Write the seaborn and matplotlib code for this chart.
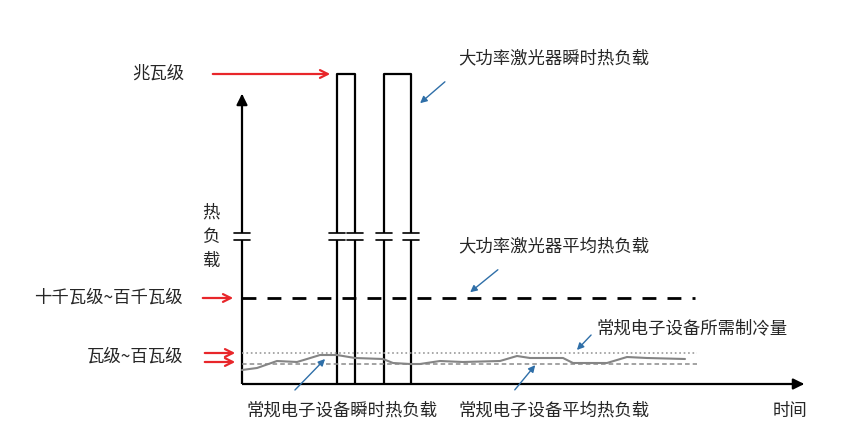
import numpy as np
import matplotlib.pyplot as plt
import seaborn as sns

sns.set_theme(style="white")
plt.rcParams['font.family'] = ['Noto Sans CJK SC', 'DejaVu Sans']

# schematic units: time to the right of the axis origin, load above it
t_curve = [0, 15, 35, 55, 65, 78, 95, 113, 141, 151, 168, 178, 198, 221, 258, 275, 288, 321, 331, 365, 385, 405, 443]
load_curve = [14, 16, 23, 22, 25, 29, 29, 26, 25, 21, 20, 20, 23, 22, 23, 28, 26, 26, 21, 21, 27, 26, 25]

pulses = [(95, 113), (142, 169)]   # laser on / off times
pulse_top = 310
break_lo, break_hi = 144, 151      # axis break band

laser_avg = 86
cool_need = 31
elec_avg = 20.5
level_end = 455
t_max = 565
load_max = 293

level_labels = ['兆瓦级', '十千瓦级~百千瓦级', '瓦级~百瓦级']
note_labels = ['大功率激光器瞬时热负载', '大功率激光器平均热负载', '常规电子设备所需制冷量',
               '常规电子设备瞬时热负载', '常规电子设备平均热负载']
note_pos = [(216, 326), (216, 138), (355, 56), (5, -27), (217, -27)]
note_tail = [(205, 304), (258, 116), (351, 51), (51, -8), (271, -8)]
note_head = [(176, 279), (226, 90), (333, 32), (85, 27), (295, 21)]

fig = plt.figure(figsize=(8.52, 4.41), dpi=100)
ax = fig.add_axes([0, 0, 1, 1])
ax.set_xlim(-242, 610)
ax.set_ylim(-57, 384)
ax.axis('off')

blk = dict(color='black', lw=1.6, solid_capstyle='butt')

# axes with break
ax.plot([0, 0], [0, break_lo], **blk)
ax.plot([0, 0], [break_hi, load_max - 8], **blk)
ax.annotate('', xy=(0, load_max), xytext=(0, load_max - 10),
            arrowprops=dict(arrowstyle='-|>', color='black', lw=1.6, mutation_scale=16))
ax.plot([0, t_max - 8], [0, 0], **blk)
ax.annotate('', xy=(t_max, 0), xytext=(t_max - 10, 0),
            arrowprops=dict(arrowstyle='-|>', color='black', lw=1.6, mutation_scale=16))

# pulses
for a, b in pulses:
    for x in (a, b):
        ax.plot([x, x], [0, break_lo], **blk)
        ax.plot([x, x], [break_hi, pulse_top], **blk)
    ax.plot([a, b], [pulse_top, pulse_top], color='black', lw=1.6)

# break marks
for x in [0] + [e for p in pulses for e in p]:
    for y in (break_lo, break_hi):
        ax.plot([x - 8, x + 8], [y, y], color='black', lw=1.2)

# levels
ax.plot([0, level_end - 2], [laser_avg, laser_avg], color='black', lw=2, dashes=(5, 4))
ax.plot([0, level_end], [cool_need, cool_need], color='#9a9a9a', lw=1.2, ls=':')
ax.plot([0, level_end], [elec_avg, elec_avg], color='#8a8a8a', lw=1.1, dashes=(3, 2))
sns.lineplot(x=t_curve, y=load_curve, ax=ax, color='#858585', lw=1.5)

fs = 12.5
# left level labels and red arrows
ax.text(-84, pulse_top, level_labels[0], ha='center', va='center', fontsize=fs)
ax.text(-59, laser_avg, level_labels[1], ha='right', va='center', fontsize=fs)
ax.text(-59, 27, level_labels[2], ha='right', va='center', fontsize=fs)
red = dict(arrowstyle='->', color='#e8262a', lw=1.6, mutation_scale=14)
ax.annotate('', xy=(91, pulse_top), xytext=(-32, pulse_top), arrowprops=red)
ax.annotate('', xy=(-6, laser_avg), xytext=(-42, laser_avg), arrowprops=red)
for y in (cool_need, 22):
    ax.annotate('', xy=(-4, y), xytext=(-40, y), arrowprops=red)

ax.text(-31, 147, '热\n负\n载', ha='center', va='center', fontsize=fs, linespacing=1.45)
ax.text(531, -27, '时间', ha='left', va='center', fontsize=fs)

blue = dict(arrowstyle='-|>', color='#2f6fa8', lw=1.0, mutation_scale=10)
for lab, pos, tail, head in zip(note_labels, note_pos, note_tail, note_head):
    ax.text(pos[0], pos[1], lab, ha='left', va='center', fontsize=fs)
    ax.annotate('', xy=head, xytext=tail, arrowprops=blue)

plt.savefig('out.png', dpi=100)
